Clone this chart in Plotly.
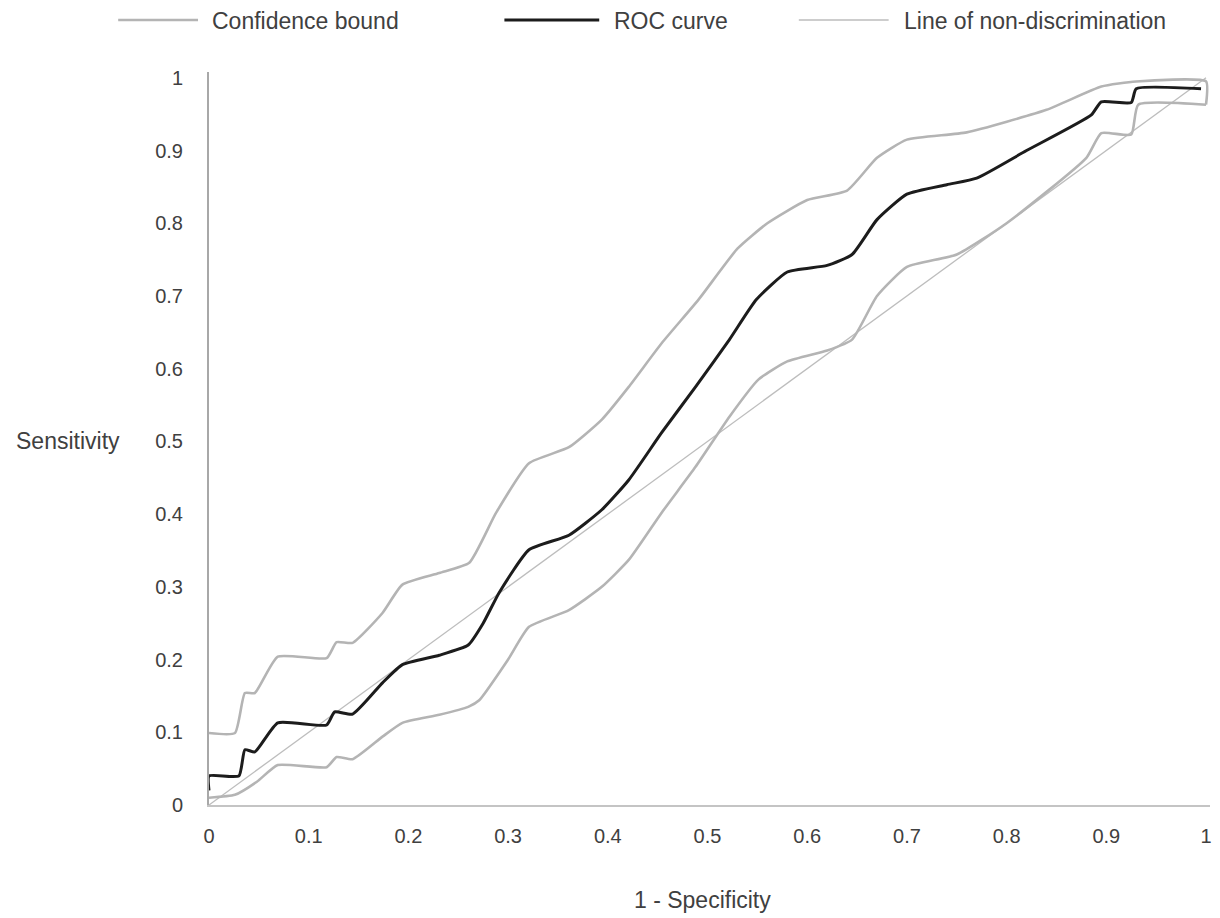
import plotly.graph_objects as go

# ---- data ----
roc_x = [0, 0, 0.03, 0.036, 0.046, 0.069, 0.118, 0.126, 0.144, 0.174, 0.194, 0.231, 0.26, 0.275,
         0.291, 0.321, 0.361, 0.394, 0.421, 0.454, 0.488, 0.522, 0.549, 0.58, 0.62, 0.645, 0.67,
         0.70, 0.74, 0.77, 0.82, 0.885, 0.895, 0.925, 0.93, 0.995]
roc_y = [0.02, 0.04, 0.04, 0.076, 0.073, 0.113, 0.11, 0.128, 0.125, 0.168, 0.193, 0.206, 0.22, 0.25,
         0.292, 0.351, 0.371, 0.406, 0.447, 0.512, 0.575, 0.64, 0.695, 0.733, 0.742, 0.757, 0.805,
         0.84, 0.853, 0.862, 0.90, 0.949, 0.967, 0.966, 0.985, 0.985]

upper_x = [0, 0.026, 0.036, 0.046, 0.069, 0.118, 0.128, 0.144, 0.174, 0.194, 0.231, 0.261, 0.288,
           0.321, 0.361, 0.394, 0.421, 0.454, 0.491, 0.53, 0.56, 0.60, 0.64, 0.67, 0.70, 0.76,
           0.84, 0.895, 0.93, 1.0, 1.0]
upper_y = [0.099, 0.099, 0.154, 0.154, 0.204, 0.202, 0.224, 0.223, 0.264, 0.303, 0.319, 0.333, 0.402,
           0.470, 0.492, 0.530, 0.575, 0.635, 0.695, 0.765, 0.80, 0.832, 0.845, 0.89, 0.915, 0.925,
           0.956, 0.988, 0.995, 0.995, 0.963]

lower_x = [0, 0.026, 0.048, 0.069, 0.118, 0.128, 0.144, 0.174, 0.194, 0.231, 0.26, 0.271, 0.30,
           0.321, 0.361, 0.394, 0.421, 0.454, 0.488, 0.522, 0.551, 0.58, 0.62, 0.645, 0.67, 0.70,
           0.75, 0.80, 0.88, 0.895, 0.925, 0.932, 1.0]
lower_y = [0.01, 0.014, 0.032, 0.055, 0.052, 0.066, 0.063, 0.094, 0.113, 0.124, 0.135, 0.144, 0.2,
           0.245, 0.268, 0.300, 0.337, 0.402, 0.465, 0.534, 0.585, 0.61, 0.625, 0.64, 0.70, 0.74,
           0.757, 0.80, 0.89, 0.924, 0.922, 0.963, 0.963]

diag_x = [0, 1]
diag_y = [0, 1]

tick_vals = [0, 0.1, 0.2, 0.3, 0.4, 0.5, 0.6, 0.7, 0.8, 0.9, 1]
tick_text = ["0", "0.1", "0.2", "0.3", "0.4", "0.5", "0.6", "0.7", "0.8", "0.9", "1"]

legend_names = ["Confidence bound", "ROC curve", "Line of non-discrimination"]

# ---- style ----
FONT = "Liberation Sans, Arial, sans-serif"
TXT = "#404040"
GRAY = "#b4b4b4"
DIAG = "#bdbdbd"
BLACK = "#1c1c1c"

OFF = 8  # default page margin of the html body
W, H = 1220 - OFF, 918 - OFF
ML, MR, MT, MB = 209 - OFF, 8, 72 - OFF, 113
PW, PH = W - ML - MR, H - MT - MB


def px(xp):
    return (xp - OFF - ML) / PW


def py(yp):
    return (H - MB - (yp - OFF)) / PH


fig = go.Figure()
fig.add_trace(go.Scatter(x=diag_x, y=diag_y, mode="lines", line=dict(color=DIAG, width=1.3),
                         name=legend_names[2], showlegend=False))
fig.add_trace(go.Scatter(x=upper_x, y=upper_y, mode="lines",
                         line=dict(color=GRAY, width=2.6, shape="spline", smoothing=0.5),
                         name=legend_names[0], showlegend=False))
fig.add_trace(go.Scatter(x=lower_x, y=lower_y, mode="lines",
                         line=dict(color=GRAY, width=2.6, shape="spline", smoothing=0.5),
                         name=legend_names[0], showlegend=False))
fig.add_trace(go.Scatter(x=roc_x, y=roc_y, mode="lines",
                         line=dict(color=BLACK, width=3, shape="spline", smoothing=0.5),
                         name=legend_names[1], showlegend=False))

# manual legend
leg = [
    (118, 198, 210, GRAY, 2.6, legend_names[0]),
    (505, 600, 613, BLACK, 3, legend_names[1]),
    (800, 890, 903, DIAG, 1.6, legend_names[2]),
]
shapes = []
annotations = []
for x0, x1, xt, col, wd, name in leg:
    shapes.append(dict(type="line", xref="paper", yref="paper", x0=px(x0), x1=px(x1),
                       y0=py(20), y1=py(20), line=dict(color=col, width=wd)))
    annotations.append(dict(text=name, xref="paper", yref="paper", x=px(xt), y=py(21),
                            xanchor="left", yanchor="middle", showarrow=False,
                            font=dict(family=FONT, size=23, color=TXT)))

annotations.append(dict(text="Sensitivity", xref="paper", yref="paper", x=px(68), y=py(441),
                        xanchor="center", yanchor="middle", showarrow=False,
                        font=dict(family=FONT, size=23, color=TXT)))
annotations.append(dict(text="1 - Specificity", xref="paper", yref="paper", x=px(703), y=py(900),
                        xanchor="center", yanchor="middle", showarrow=False,
                        font=dict(family=FONT, size=23, color=TXT)))

fig.update_layout(
    width=W, height=H,
    margin=dict(l=ML, r=MR, t=MT, b=MB, pad=0),
    paper_bgcolor="white", plot_bgcolor="white",
    showlegend=False,
    shapes=shapes, annotations=annotations,
    xaxis=dict(range=[0, 1.004], tickvals=tick_vals, ticktext=tick_text, showgrid=False,
               zeroline=False, showline=True, linecolor="#c4c4c4", linewidth=2,
               ticks="", ticklabelstandoff=12,
               tickfont=dict(family=FONT, size=20, color=TXT)),
    yaxis=dict(range=[0, 1.008], tickvals=tick_vals, ticktext=tick_text, showgrid=False,
               zeroline=False, showline=True, linecolor="#a8a8a8", linewidth=2,
               ticks="", ticklabelstandoff=20,
               tickfont=dict(family=FONT, size=20, color=TXT)),
)

fig.write_html("out.html")
